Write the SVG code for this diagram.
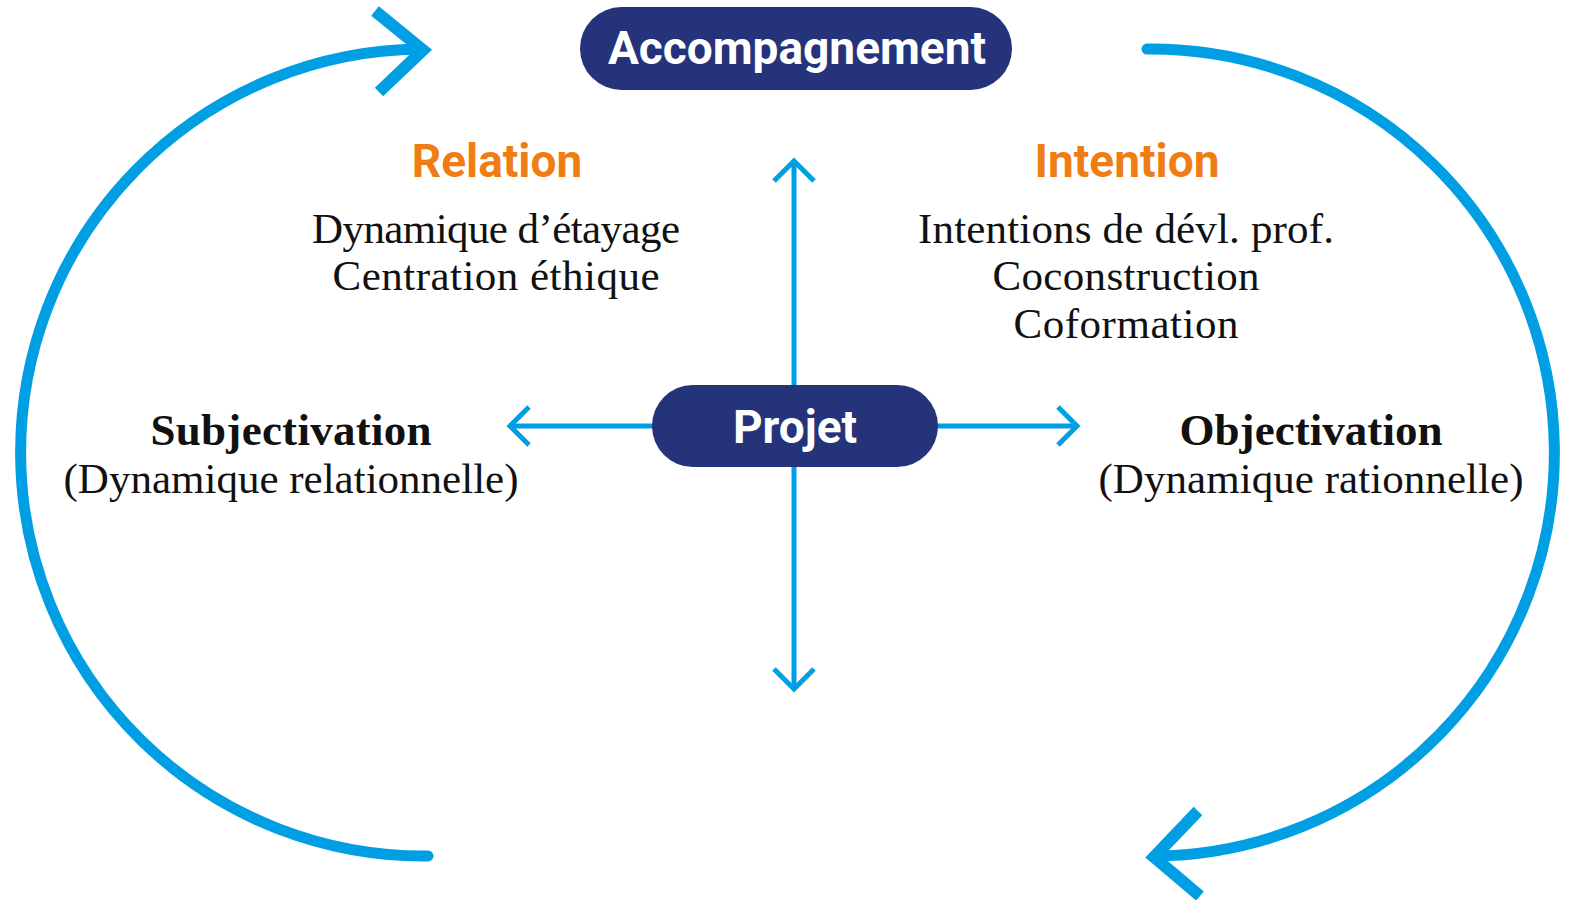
<svg xmlns="http://www.w3.org/2000/svg" width="1573" height="900" viewBox="0 0 1573 900">
<style>
.loop{fill:none;stroke:#009FE3;stroke-width:11;stroke-linecap:round}
.head{fill:none;stroke:#009FE3;stroke-width:12;stroke-linecap:butt;stroke-linejoin:miter}
.axis{fill:none;stroke:#009FE3;stroke-width:5}
.ah{fill:none;stroke:#009FE3;stroke-width:5;stroke-linecap:butt;stroke-linejoin:miter}
.pill{fill:#25337A}
.pt{font-family:Roboto,"Liberation Sans",sans-serif;font-weight:700;font-size:46px;fill:#fff;text-anchor:middle}
.ot{font-family:Roboto,"Liberation Sans",sans-serif;font-weight:700;font-size:46px;fill:#EF7D14;text-anchor:middle}
.st{font-family:"Liberation Serif","DejaVu Serif",serif;font-size:43px;fill:#111;text-anchor:middle}
.sb{font-family:"Liberation Serif","DejaVu Serif",serif;font-size:45px;font-weight:700;fill:#111;text-anchor:middle}
</style>
<rect width="1573" height="900" fill="#fff"/>
<g id="connectors">
<path class="loop" d="M420,49 A403,403 0 0 0 428,856"/>
<path class="head" d="M375,11 L423,50 L379,92"/>
<path class="loop" d="M1147,49 A403,403 0 0 1 1155,856"/>
<path class="head" d="M1198,811 L1154,857 L1200,896"/>
<line class="axis" x1="510" y1="426" x2="1077" y2="426"/>
<path class="ah" d="M529,407 L510,426 L529,445"/>
<path class="ah" d="M1058,407 L1077,426 L1058,445"/>
<line class="axis" x1="794" y1="161" x2="794" y2="689"/>
<path class="ah" d="M774,181 L794,161 L814,181"/>
<path class="ah" d="M774,669 L794,689 L814,669"/>
</g>
<g id="accompagnement">
<rect class="pill" x="580" y="7" width="432" height="83" rx="41.5"/>
<text class="pt" x="797" y="64">Accompagnement</text>
</g>
<g id="projet">
<rect class="pill" x="652" y="385" width="286" height="82" rx="41"/>
<text class="pt" x="795" y="443">Projet</text>
</g>
<g id="relation">
<text class="ot" x="497" y="177">Relation</text>
<text class="st" x="496" y="243" textLength="368">Dynamique d’étayage</text>
<text class="st" x="496" y="290" textLength="327">Centration éthique</text>
</g>
<g id="intention">
<text class="ot" x="1127" y="177">Intention</text>
<text class="st" x="1126" y="243" textLength="416">Intentions de dévl. prof.</text>
<text class="st" x="1126" y="290" textLength="267">Coconstruction</text>
<text class="st" x="1126" y="338" textLength="225">Coformation</text>
</g>
<g id="subjectivation">
<text class="sb" x="291" y="445" textLength="281">Subjectivation</text>
<text class="st" x="291" y="493" textLength="455">(Dynamique relationnelle)</text>
</g>
<g id="objectivation">
<text class="sb" x="1311" y="445" textLength="263">Objectivation</text>
<text class="st" x="1311" y="493" textLength="425">(Dynamique rationnelle)</text>
</g>
</svg>
